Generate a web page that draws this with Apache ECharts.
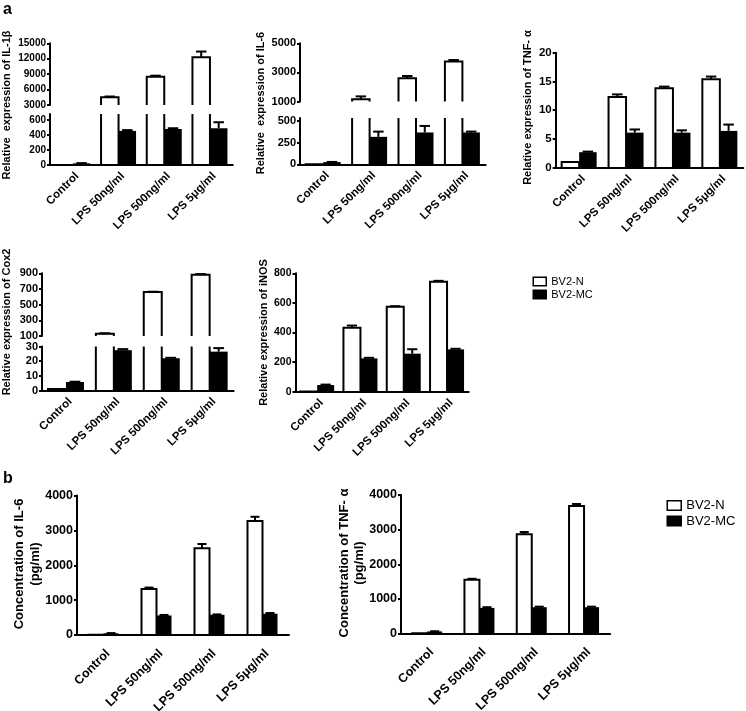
<!DOCTYPE html>
<html><head><meta charset="utf-8">
<script src="https://cdn.jsdelivr.net/npm/echarts@6/dist/echarts.min.js"></script>
<style>html,body{margin:0;padding:0;background:#fff}#c{width:746px;height:711px}</style>
</head><body><div id="c"></div>
<script>
// ---------------- DATA ----------------
const categories = ['Control', 'LPS 50ng/ml', 'LPS 500ng/ml', 'LPS 5μg/ml'];
const seriesNames = ['BV2-N', 'BV2-MC'];

const il1bN = [1, 4500, 8500, 12300];
const il1bNErr = [0, 150, 200, 1100];
const il1bMC = [22, 455, 480, 490];
const il1bMCErr = [3, 10, 10, 80];
const il1bTicksUpper = [3000, 6000, 9000, 12000, 15000];
const il1bTicksLower = [0, 200, 400, 600];

const il6N = [1, 1150, 2600, 3750];
const il6NErr = [0, 200, 150, 100];
const il6MC = [25, 315, 365, 365];
const il6MCErr = [2, 60, 75, 10];
const il6TicksUpper = [1000, 3000, 5000];
const il6TicksLower = [0, 250, 500];

const tnfN = [1.0, 12.3, 13.8, 15.4];
const tnfNErr = [0, 0.45, 0.3, 0.45];
const tnfMC = [2.7, 6.1, 6.1, 6.4];
const tnfMCErr = [0.1, 0.55, 0.4, 1.1];
const tnfTicks = [0, 5, 10, 15, 20];

const cox2N = [1, 130, 660, 880];
const cox2NErr = [0, 5, 5, 10];
const cox2MC = [5.8, 27.5, 22, 26.5];
const cox2MCErr = [0.2, 0.7, 0.3, 2.4];
const cox2TicksUpper = [100, 300, 500, 700, 900];
const cox2TicksLower = [0, 10, 20, 30];

const inosN = [2, 432, 574, 743];
const inosNErr = [0, 15, 4, 6];
const inosMC = [45, 225, 257, 286];
const inosMCErr = [3, 4, 30, 4];
const inosTicks = [0, 200, 400, 600, 800];

const il6ConcN = [10, 1320, 2490, 3270];
const il6ConcNErr = [0, 40, 120, 120];
const il6ConcMC = [50, 560, 580, 610];
const il6ConcMCErr = [5, 15, 10, 20];
const tnfConcN = [10, 1550, 2870, 3680];
const tnfConcNErr = [0, 30, 60, 60];
const tnfConcMC = [60, 740, 760, 760];
const tnfConcMCErr = [5, 20, 15, 15];
const concTicks = [0, 1000, 2000, 3000, 4000];

// ---------------- LAYOUT ----------------
const FONT = '"Liberation Sans", Arial, Helvetica, sans-serif';
const panels = [
  { n: il1bN, ne: il1bNErr, m: il1bMC, me: il1bMCErr, left: 50, band: 45.7, barW: 17.5, tickFont: 10, catFont: 11.5, catMargin: 5,
    segs: [{ top: 43.3, bottom: 105, min: 3000, max: 15000, ticks: il1bTicksUpper },
           { top: 114, bottom: 165, min: 0, max: 680, ticks: il1bTicksLower }],
    name: 'Relative  expression of IL-1β', nx: 6.5, ny: 105, nf: 11 },
  { n: il6N, ne: il6NErr, m: il6MC, me: il6MCErr, left: 300, band: 46.4, barW: 17.5, tickFont: 11, catFont: 11.5, catMargin: 5,
    segs: [{ top: 43.3, bottom: 101.5, min: 1000, max: 5000, ticks: il6TicksUpper },
           { top: 118, bottom: 164.3, min: 0, max: 531, ticks: il6TicksLower }],
    name: 'Relative  expression of IL-6', nx: 261, ny: 103, nf: 11 },
  { n: tnfN, ne: tnfNErr, m: tnfMC, me: tnfMCErr, left: 555.7, band: 46.9, barW: 17.5, tickFont: 11.5, catFont: 11.5, catMargin: 5,
    segs: [{ top: 52.7, bottom: 167.7, min: 0, max: 20, ticks: tnfTicks }],
    name: 'Relative expression of TNF- α', nx: 528, ny: 107.5, nf: 11 },
  { n: cox2N, ne: cox2NErr, m: cox2MC, me: cox2MCErr, left: 42, band: 47.9, barW: 18, tickFont: 11, catFont: 11.5, catMargin: 5,
    segs: [{ top: 273.3, bottom: 336, min: 100, max: 900, ticks: cox2TicksUpper },
           { top: 346.5, bottom: 390.5, min: 0, max: 30, ticks: cox2TicksLower }],
    name: 'Relative expression of Cox2', nx: 6.7, ny: 322, nf: 11 },
  { n: inosN, ne: inosNErr, m: inosMC, me: inosMCErr, left: 295.5, band: 43.3, barW: 17, tickFont: 10.5, catFont: 11.5, catMargin: 5,
    segs: [{ top: 273.3, bottom: 391.7, min: 0, max: 800, ticks: inosTicks }],
    name: 'Relative expression of iNOS', nx: 264, ny: 332.5, nf: 11 },
  { n: il6ConcN, ne: il6ConcNErr, m: il6ConcMC, me: il6ConcMCErr, left: 77, band: 53, barW: 15, tickFont: 12.5, catFont: 12.5, catMargin: 12,
    segs: [{ top: 495.5, bottom: 635, min: 0, max: 4000, ticks: concTicks }],
    name: 'Concentration of IL-6\n(pg/ml)', nx: 27, ny: 564, nf: 13, nlh: 16 },
  { n: tnfConcN, ne: tnfConcNErr, m: tnfConcMC, me: tnfConcMCErr, left: 401, band: 52.3, barW: 15, tickFont: 12.5, catFont: 12.5, catMargin: 12,
    segs: [{ top: 495, bottom: 633.5, min: 0, max: 4000, ticks: concTicks }],
    name: 'Concentration of TNF- α\n(pg/ml)', nx: 351.5, ny: 563, nf: 13, nlh: 15 }
];

function makeRender(side, barW) {
  return function (params, api) {
    const cs = params.coordSys;
    const gTop = cs.y, gBottom = cs.y + cs.height;
    const idx = api.value(0), v = api.value(1), e = api.value(2);
    const p = api.coord([idx, v]);
    const x0 = side === 0 ? p[0] - barW : p[0];
    const x1 = x0 + barW;
    const yv = p[1];
    if (yv > gBottom + 0.01) return null;
    const yTop = Math.max(yv, gTop);
    const filled = side === 1;
    const ls = { stroke: '#000', lineWidth: 2, fill: null };
    const children = [{ type: 'rect', shape: { x: x0, y: yTop, width: barW, height: gBottom - yTop },
      style: { fill: filled ? '#000' : '#fff' } }];
    if (!filled) {
      if (yv >= gTop) {
        children.push({ type: 'polyline', shape: { points: [[x0, gBottom], [x0, yv], [x1, yv], [x1, gBottom]] }, style: ls });
      } else {
        children.push({ type: 'line', shape: { x1: x0, y1: gTop, x2: x0, y2: gBottom }, style: ls });
        children.push({ type: 'line', shape: { x1: x1, y1: gTop, x2: x1, y2: gBottom }, style: ls });
      }
    }
    if (e > 0 && yv >= gTop) {
      const yeRaw = api.coord([idx, v + e])[1];
      const ye = Math.max(yeRaw, gTop);
      const xc = (x0 + x1) / 2, hw = barW * 0.3;
      children.push({ type: 'line', shape: { x1: xc, y1: yv, x2: xc, y2: ye }, style: ls });
      if (yeRaw >= gTop) children.push({ type: 'line', shape: { x1: xc - hw, y1: ye, x2: xc + hw, y2: ye }, style: ls });
    }
    return { type: 'group', children: children };
  };
}

const option = { animation: false, backgroundColor: '#fff', textStyle: { fontFamily: FONT },
  grid: [], xAxis: [], yAxis: [], series: [], legend: [], graphic: [] };

panels.forEach(function (p) {
  const width = p.band * 4;
  p.segs.forEach(function (s, si) {
    const gi = option.grid.length;
    const isBottom = si === p.segs.length - 1;
    option.grid.push({ left: p.left, top: s.top, width: width, height: s.bottom - s.top, containLabel: false, outerBoundsMode: 'none' });
    option.xAxis.push({ gridIndex: gi, type: 'category', data: categories, show: isBottom, boundaryGap: true, z: 5,
      axisLine: { show: true, lineStyle: { color: '#000', width: 2 } }, axisTick: { show: false },
      axisLabel: { interval: 0, rotate: 45, fontSize: p.catFont, fontWeight: 'bold', fontFamily: FONT, color: '#000',
        margin: p.catMargin, verticalAlign: 'top' } });
    option.yAxis.push({ gridIndex: gi, type: 'value', min: s.min, max: s.max, splitLine: { show: false }, z: 5,
      axisLine: { show: true, lineStyle: { color: '#000', width: 2 } },
      axisTick: { show: true, length: 3, lineStyle: { color: '#000', width: 2 }, customValues: s.ticks },
      axisLabel: { customValues: s.ticks, formatter: function (v) { return String(v); }, fontSize: p.tickFont,
        fontWeight: 'bold', fontFamily: FONT, color: '#000', margin: 4 } });
    [[p.n, p.ne, 0], [p.m, p.me, 1]].forEach(function (d) {
      const vals = d[0], errs = d[1], side = d[2];
      option.series.push({ type: 'custom', name: seriesNames[side], xAxisIndex: gi, yAxisIndex: gi,
        encode: { x: 0, y: 1 }, itemStyle: { color: side ? '#000' : '#fff', borderColor: '#000' },
        data: vals.map(function (v, i) { return [i, v, errs[i]]; }),
        renderItem: makeRender(side, p.barW) });
    });
  });
  option.graphic.push({ type: 'text', x: p.nx, y: p.ny, rotation: Math.PI / 2,
    style: { text: p.name, fontSize: p.nf, fontWeight: 'bold', fontFamily: FONT, fill: '#000',
      align: 'center', verticalAlign: 'middle', lineHeight: p.nlh || p.nf + 2 } });
});

const legendData = [
  { name: seriesNames[0], itemStyle: { color: '#fff', borderColor: '#000', borderWidth: 1.5 } },
  { name: seriesNames[1], itemStyle: { color: '#000', borderColor: '#000', borderWidth: 1.5 } }
];
option.legend.push({ left: 532.5, top: 275.5, orient: 'vertical', padding: 0, itemWidth: 13, itemHeight: 8.5, itemGap: 1,
  selectedMode: false, icon: 'rect', data: legendData,
  textStyle: { fontSize: 11, fontFamily: FONT, color: '#000', lineHeight: 12 } });
option.legend.push({ left: 666.5, top: 498.5, orient: 'vertical', padding: 0, itemWidth: 14, itemHeight: 9.5, itemGap: 1.5,
  selectedMode: false, icon: 'rect', data: legendData,
  textStyle: { fontSize: 13, fontFamily: FONT, color: '#000', lineHeight: 14 } });

option.graphic.push({ type: 'text', left: 3, top: 2, style: { text: 'a', fontSize: 16, fontWeight: 'bold', fontFamily: FONT, fill: '#000' } });
option.graphic.push({ type: 'text', left: 3, top: 471, style: { text: 'b', fontSize: 16, fontWeight: 'bold', fontFamily: FONT, fill: '#000' } });

const chart = echarts.init(document.getElementById('c'), null, { renderer: 'canvas' });
chart.setOption(option);
</script>
</body></html>
